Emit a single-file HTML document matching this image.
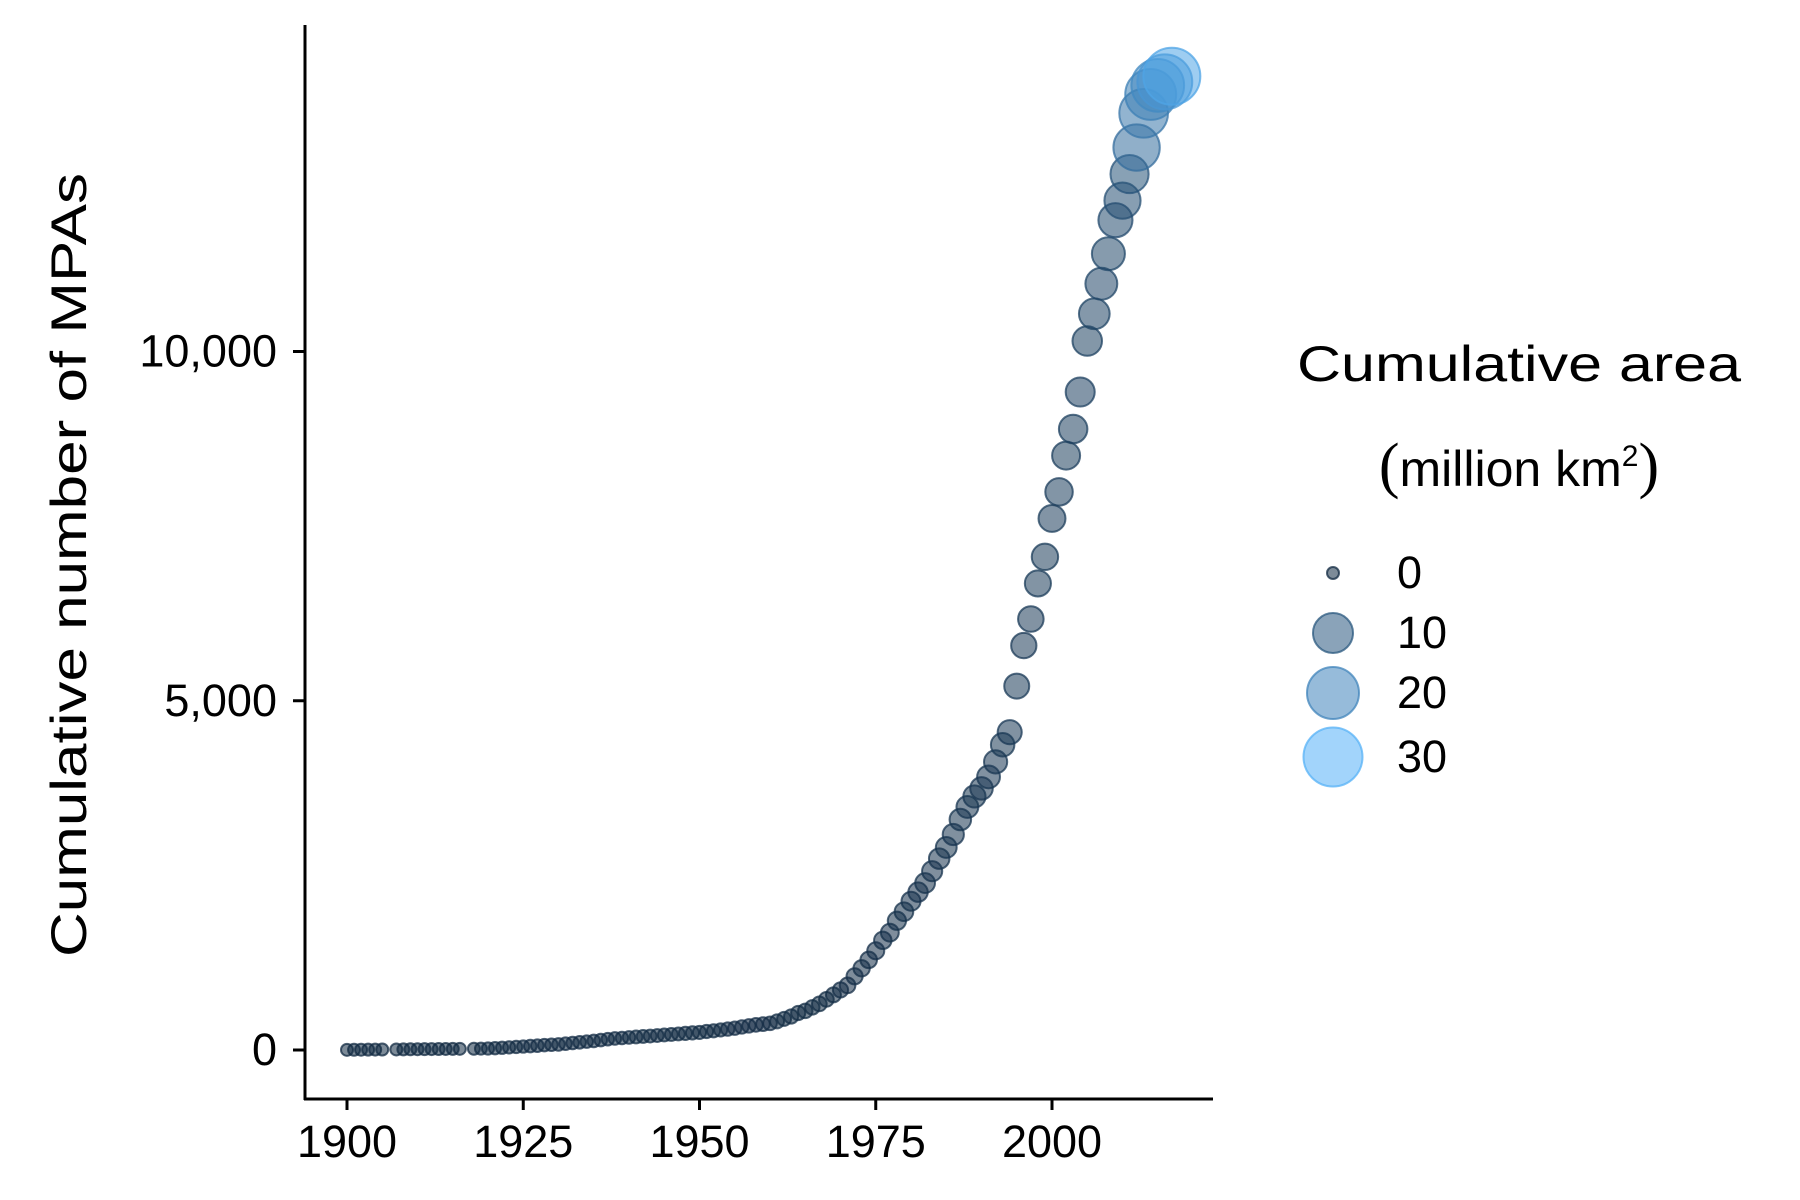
<!DOCTYPE html>
<html><head><meta charset="utf-8"><style>
html,body{margin:0;padding:0;background:#fff;}
svg{display:block;font-family:"Liberation Sans",sans-serif;}
</style></head><body>
<svg id="chart" width="1800" height="1200" viewBox="0 0 1800 1200">
<g id="points"></g>
<line x1="305" y1="25" x2="305" y2="1100" stroke="#000" stroke-width="3"/>
<line x1="304" y1="1099" x2="1213" y2="1099" stroke="#000" stroke-width="3"/>
<g id="xticks"></g>
<g id="yticks"></g>
<text transform="translate(86,565) rotate(-90)" text-anchor="middle" font-size="50" textLength="784" lengthAdjust="spacingAndGlyphs">Cumulative number of MPAs</text>
<text x="1519" y="381" text-anchor="middle" font-size="50" textLength="444" lengthAdjust="spacingAndGlyphs">Cumulative area</text>
<text x="1519" y="486" text-anchor="middle" font-size="50"><tspan font-size="62" font-family="Liberation Serif">(</tspan>million km<tspan font-size="30" dy="-20">2</tspan><tspan dy="20" font-size="62" font-family="Liberation Serif">)</tspan></text>
<g id="legend"></g>
</svg>
<script>
const years = [1900,1901,1902,1903,1904,1905,1907,1908,1909,1910,1911,1912,1913,1914,1915,1916,1918,1919,1920,1921,1922,1923,1924,1925,1926,1927,1928,1929,1930,1931,1932,1933,1934,1935,1936,1937,1938,1939,1940,1941,1942,1943,1944,1945,1946,1947,1948,1949,1950,1951,1952,1953,1954,1955,1956,1957,1958,1959,1960,1961,1962,1963,1964,1965,1966,1967,1968,1969,1970,1971,1972,1973,1974,1975,1976,1977,1978,1979,1980,1981,1982,1983,1984,1985,1986,1987,1988,1989,1990,1991,1992,1993,1994,1995,1996,1997,1998,1999,2000,2001,2002,2003,2004,2005,2006,2007,2008,2009,2010,2011,2012,2013,2014,2015,2016,2017];
const counts = [2,3,4,5,6,7,8,9,10,11,12,13,14,15,16,17,18,19,22,26,32,38,44,50,56,62,70,75,80,90,100,110,120,130,142,155,165,172,180,187,194,200,207,215,222,230,238,245,252,265,275,287,300,312,330,345,360,370,382,410,445,480,530,560,610,660,725,790,860,925,1055,1170,1290,1420,1570,1680,1850,1980,2130,2260,2390,2560,2740,2900,3085,3300,3480,3630,3745,3910,4125,4370,4550,5210,5790,6170,6680,7060,7610,7990,8510,8890,9420,10150,10540,10970,11400,11880,12160,12540,12920,13410,13680,13810,13860,13940];
const areas = [0,0,0,0,0,0,0,0,0,0,0,0,0,0,0,0,0,0,0.05,0.05,0.05,0.05,0.05,0.05,0.1,0.1,0.1,0.1,0.1,0.1,0.1,0.1,0.1,0.1,0.1,0.1,0.1,0.1,0.1,0.15,0.15,0.15,0.15,0.15,0.15,0.15,0.2,0.2,0.2,0.2,0.2,0.2,0.25,0.25,0.25,0.25,0.3,0.3,0.3,0.35,0.35,0.4,0.4,0.45,0.45,0.5,0.5,0.55,0.6,0.7,0.8,0.85,0.9,1.0,1.1,1.2,1.3,1.4,1.5,1.6,1.7,1.8,1.9,2.0,2.1,2.2,2.3,2.4,2.5,2.6,2.7,2.8,3.0,3.3,3.4,3.5,3.7,3.8,4.0,4.2,4.4,4.6,4.8,5.0,5.5,6.0,6.5,7.0,8.0,9.0,15,17,19,21,24,27];
const xTicks = [1900,1925,1950,1975,2000];
const yTicks = [0,5000,10000];
const yTickLabels = ["0","5,000","10,000"];
const legendValues = [0,10,20,30];

const NS="http://www.w3.org/2000/svg";
function xScale(y){return 347+(y-1900)*7.05;}
function yScale(c){return 1050-c*0.06985;}
const rBreaks=[[0,6],[10,20],[20,26],[30,29.5]];
function rScale(v){
  for(let i=0;i<rBreaks.length-1;i++){
    const a=rBreaks[i],b=rBreaks[i+1];
    if(v<=b[0]||i===rBreaks.length-2){
      const t=Math.max(0,(v-a[0])/(b[0]-a[0]));
      return Math.sqrt(a[1]*a[1]+t*(b[1]*b[1]-a[1]*a[1]));
    }
  }
}
function cScale(v){
  const t=Math.max(0,Math.min(1,v/30));
  const lo=[19,43,67],hi=[86,177,247];
  return "rgb("+lo.map((l,i)=>Math.round(l+(hi[i]-l)*t)).join(",")+")";
}
const pts=document.getElementById("points");
for(let i=0;i<years.length;i++){
  const c=document.createElementNS(NS,"circle");
  c.setAttribute("cx",xScale(years[i]));
  c.setAttribute("cy",yScale(counts[i]));
  c.setAttribute("r",rScale(areas[i]));
  const col=cScale(areas[i]);
  c.setAttribute("fill",col);c.setAttribute("fill-opacity","0.55");
  c.setAttribute("stroke",col);c.setAttribute("stroke-opacity","0.75");c.setAttribute("stroke-width","2");
  
  
  pts.appendChild(c);
}
const xt=document.getElementById("xticks");
xTicks.forEach(v=>{
  const x=xScale(v);
  const l=document.createElementNS(NS,"line");
  l.setAttribute("x1",x);l.setAttribute("x2",x);l.setAttribute("y1",1099);l.setAttribute("y2",1110);
  l.setAttribute("stroke","#000");l.setAttribute("stroke-width","3");
  
  
  xt.appendChild(l);
  const t=document.createElementNS(NS,"text");
  t.setAttribute("x",x);t.setAttribute("y",1157);t.setAttribute("text-anchor","middle");t.setAttribute("font-size","45");
  t.textContent=v;
  
  
  xt.appendChild(t);
});
const yt=document.getElementById("yticks");
yTicks.forEach((v,i)=>{
  const y=yScale(v);
  const l=document.createElementNS(NS,"line");
  l.setAttribute("x1",293);l.setAttribute("x2",305);l.setAttribute("y1",y);l.setAttribute("y2",y);
  l.setAttribute("stroke","#000");l.setAttribute("stroke-width","3");
  
  
  yt.appendChild(l);
  const t=document.createElementNS(NS,"text");
  t.setAttribute("x",277);t.setAttribute("y",y+15);t.setAttribute("text-anchor","end");t.setAttribute("font-size","45");
  t.textContent=yTickLabels[i];
  
  
  yt.appendChild(t);
});
const lg=document.getElementById("legend");
const legY=[573,633,693,757];
legendValues.forEach((v,i)=>{
  const c=document.createElementNS(NS,"circle");
  const col=cScale(v);
  c.setAttribute("cx",1333);c.setAttribute("cy",legY[i]);c.setAttribute("r",rScale(v));
  c.setAttribute("fill",col);c.setAttribute("fill-opacity","0.55");
  c.setAttribute("stroke",col);c.setAttribute("stroke-opacity","0.75");c.setAttribute("stroke-width","2");
  
  
  lg.appendChild(c);
  const t=document.createElementNS(NS,"text");
  t.setAttribute("x",1397);t.setAttribute("y",legY[i]+15);t.setAttribute("font-size","45");
  t.textContent=v;
  
  
  lg.appendChild(t);
});
</script>
</body></html>
